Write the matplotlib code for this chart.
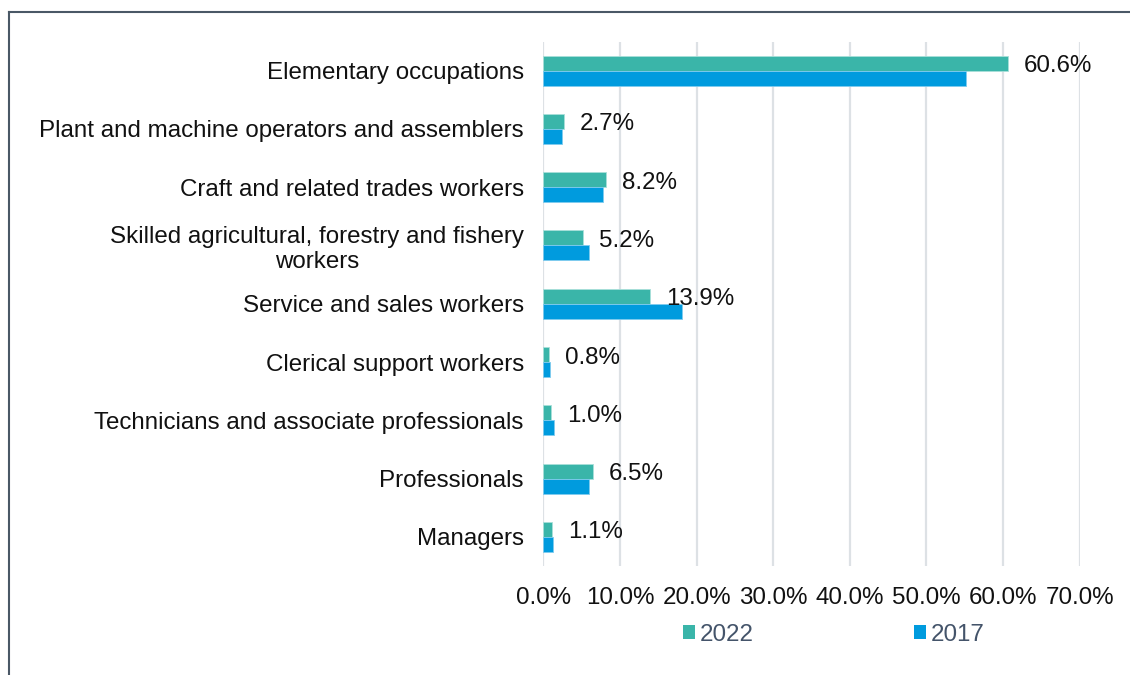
import matplotlib.pyplot as plt
from matplotlib.lines import Line2D
from matplotlib.patches import Patch
import numpy as np

plt.rcParams['font.family'] = ['Liberation Sans', 'DejaVu Sans']

categories = [
    "Elementary occupations",
    "Plant and machine operators and assemblers",
    "Craft and related trades workers",
    "Skilled agricultural, forestry and fishery\nworkers",
    "Service and sales workers",
    "Clerical support workers",
    "Technicians and associate professionals",
    "Professionals",
    "Managers",
]
values_2022 = [60.6, 2.7, 8.2, 5.2, 13.9, 0.8, 1.0, 6.5, 1.1]
values_2017 = [55.2, 2.5, 7.8, 6.0, 18.1, 0.9, 1.4, 6.0, 1.3]
x_ticks = [0, 10, 20, 30, 40, 50, 60, 70]
x_tick_labels = ["0.0%", "10.0%", "20.0%", "30.0%", "40.0%", "50.0%", "60.0%", "70.0%"]

color_2022 = "#3AB5A9"
color_2017 = "#009BDE"
legend_text_color = "#44546A"
fs = 17.4

fig = plt.figure(figsize=(11.3, 6.75), dpi=100)
ax = fig.add_axes([0.4808, 0.1615, 0.4747, 0.777])

y = np.arange(len(categories))
h = 0.257
ax.barh(y - h / 2, values_2022, height=h, color=color_2022,
        edgecolor="#A9E0DA", linewidth=0.6, label="2022", zorder=3)
ax.barh(y + h / 2, values_2017, height=h, color=color_2017,
        edgecolor="#7FCBEE", linewidth=0.6, label="2017", zorder=3)

for yi, v in zip(y, values_2022):
    ax.annotate(f"{v:.1f}%", xy=(v, yi - h / 2), xytext=(16, -3),
                textcoords="offset pixels", ha="left", va="center",
                fontsize=fs, color="#111111", zorder=4)

ax.set_ylim(len(categories) - 0.5, -0.5)
ax.set_xlim(0, 70)
ax.set_yticks(y)
ax.set_yticklabels(categories, fontsize=fs, color="#111111",
                   multialignment="center")
ax.set_xticks(x_ticks)
ax.set_xticklabels(x_tick_labels, fontsize=fs, color="#111111")
ax.tick_params(axis="y", length=0, pad=14)
ax.tick_params(axis="x", length=0, pad=15)
ax.grid(axis="x", color="#DDE1E5", linewidth=1.6, zorder=0)
ax.set_axisbelow(True)
for s in ax.spines.values():
    s.set_visible(False)

handles = [Patch(facecolor=color_2022, edgecolor="none"),
           Patch(facecolor=color_2017, edgecolor="none")]
leg = fig.legend(handles, ["2022", "2017"], loc="center",
                 bbox_to_anchor=(0.7378, 0.0597), ncol=2, frameon=False,
                 fontsize=fs, handlelength=0.52, handleheight=0.54,
                 handletextpad=0.2, columnspacing=6.6,
                 borderpad=0, borderaxespad=0)
for t in leg.get_texts():
    t.set_color(legend_text_color)

# chart frame (top and left edges)
fig.add_artist(Line2D([0.008, 1.0], [0.9815, 0.9815], transform=fig.transFigure,
                      color="#4A5866", linewidth=1.5))
fig.add_artist(Line2D([0.008, 0.008], [0.0, 0.9815], transform=fig.transFigure,
                      color="#4A5866", linewidth=1.5))

fig.savefig("out.png", dpi=100)
